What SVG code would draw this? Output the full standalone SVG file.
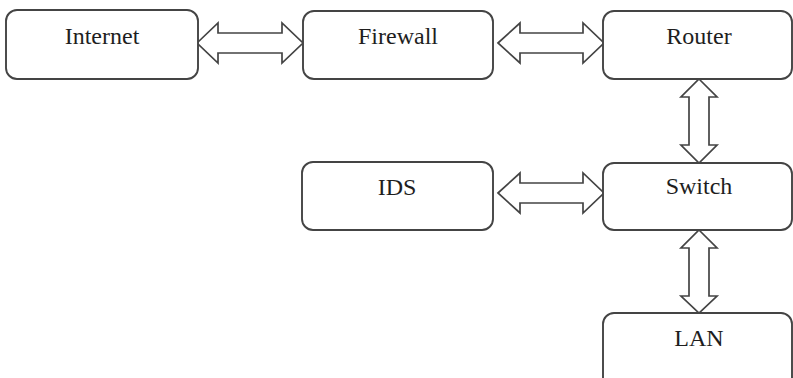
<svg xmlns="http://www.w3.org/2000/svg" width="793" height="378" viewBox="0 0 793 378">
<style>
.box{fill:#fff;stroke:#444;stroke-width:1.9}
.arr{fill:#fff;stroke:#444;stroke-width:1.7;stroke-linejoin:miter}
text{font-family:"Liberation Serif","Times New Roman",serif;font-size:24px;fill:#1e1e1e;text-anchor:middle}
</style>
<rect width="793" height="378" fill="#fff"/>
<g id="connectors">
<polygon class="arr" points="197,43 218,23 218,33 282,33 282,23 303,43 282,63 282,53 218,53 218,63"/>
<polygon class="arr" points="498,43 520,23 520,33 583,33 583,23 604,43 583,63 583,53 520,53 520,63"/>
<polygon class="arr" points="498,193 520,173 520,183 583,183 583,173 604,193 583,213 583,203 520,203 520,213"/>
<polygon class="arr" points="699,79 717,97 709,97 709,145 717,145 699,163 681,145 689,145 689,97 681,97"/>
<polygon class="arr" points="699,230 717,248 709,248 709,296 717,296 699,313 681,296 689,296 689,248 681,248"/>
</g>
<g id="internet"><rect class="box" x="6" y="10" width="192" height="69" rx="11"/><text x="102" y="44">Internet</text></g>
<g id="firewall"><rect class="box" x="303" y="11" width="190" height="68" rx="11"/><text x="398" y="44">Firewall</text></g>
<g id="router"><rect class="box" x="603" y="11" width="189" height="68" rx="11"/><text x="699" y="44">Router</text></g>
<g id="ids"><rect class="box" x="302" y="162" width="191" height="68" rx="11"/><text x="397" y="195">IDS</text></g>
<g id="switch"><rect class="box" x="603" y="163" width="189" height="67" rx="11"/><text x="699" y="194">Switch</text></g>
<g id="lan"><rect class="box" x="603" y="313" width="189" height="80" rx="11"/><text x="699" y="346">LAN</text></g>
</svg>
